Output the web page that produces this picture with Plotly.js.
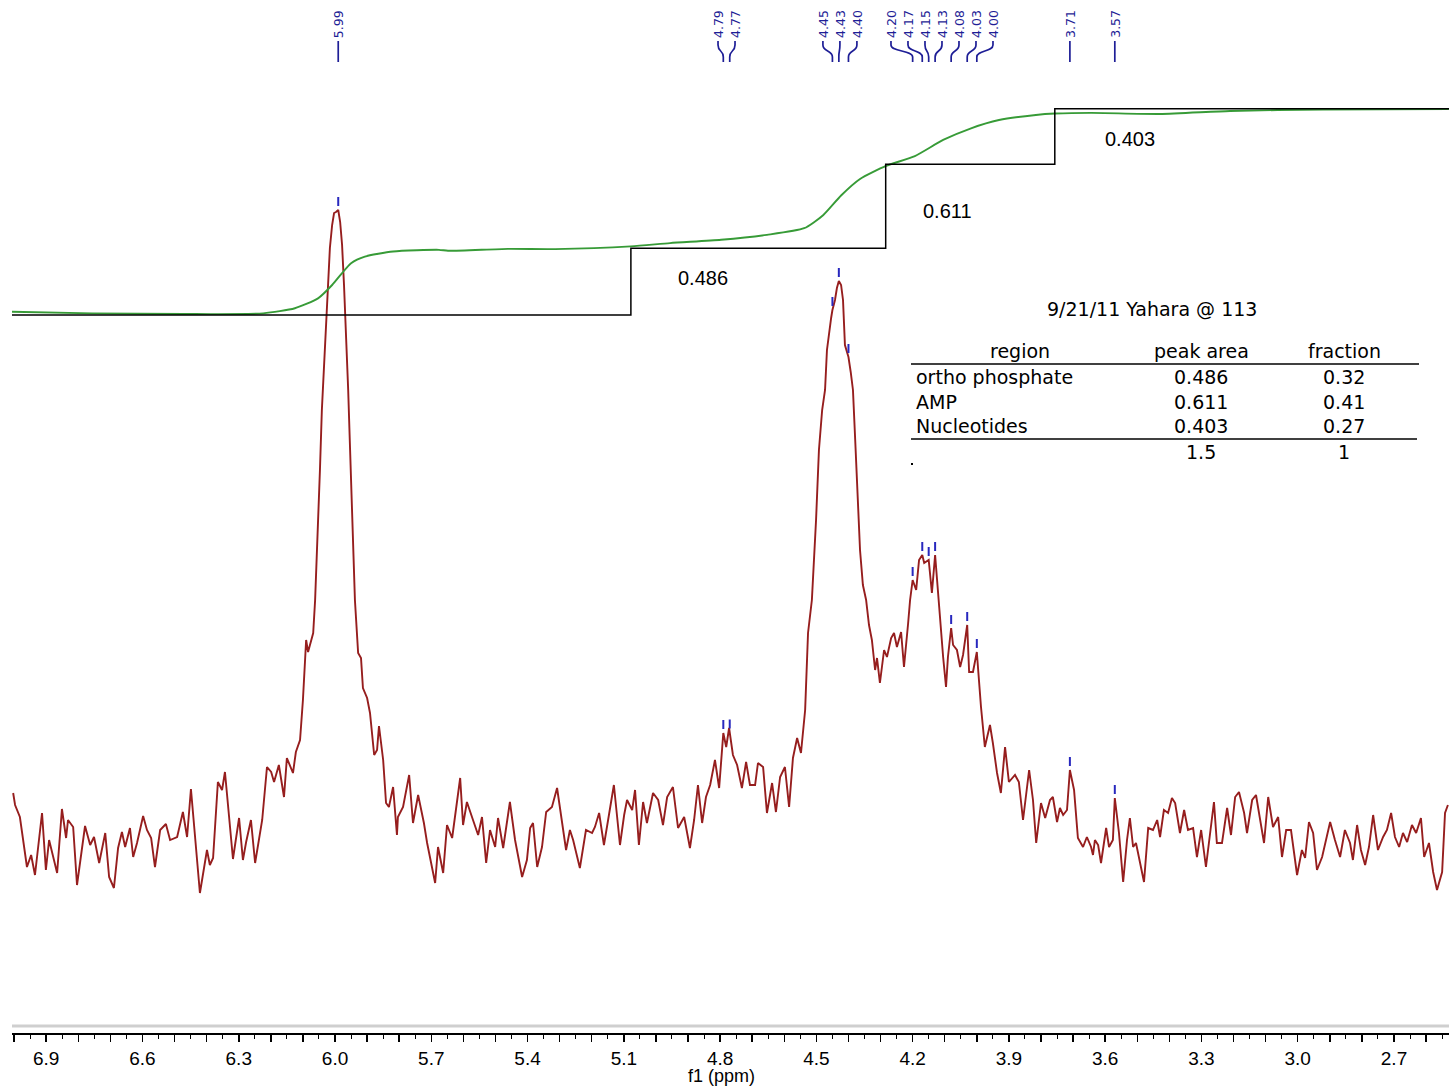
<!DOCTYPE html>
<html>
<head>
<meta charset="utf-8">
<script src="https://cdn.plot.ly/plotly-3.0.1.min.js"></script>
<style>
  html, body { margin: 0; padding: 0; background: #fff; }
  #chart { width: 1449px; height: 1087px; }
</style>
</head>
<body>
<div id="chart"></div>
<script>
// ---------------- DATA ----------------
// 31P spectrum: chemical shift (ppm) and intensity (arbitrary units)
const ppm = [
7.003,6.997,6.982,6.960,6.947,6.935,6.913,6.901,6.891,6.866,6.851,6.838,6.832,6.816,6.804,6.795,6.779,6.763,6.751,6.735,
6.716,6.704,6.689,6.676,6.664,6.654,6.639,6.629,6.617,6.598,6.586,6.573,6.561,6.545,6.527,6.514,6.492,6.474,6.461,6.449,
6.436,6.421,6.399,6.390,6.380,6.365,6.352,6.343,6.318,6.299,6.287,6.277,6.262,6.249,6.227,6.212,6.199,6.190,6.175,6.159,
6.150,6.131,6.122,6.109,6.100,6.090,6.084,6.068,6.062,6.053,6.047,6.041,6.034,6.028,6.022,6.016,6.009,6.003,5.997,5.990,
5.984,5.978,5.972,5.966,5.959,5.953,5.947,5.941,5.938,5.928,5.919,5.913,5.900,5.891,5.878,5.869,5.863,5.850,5.841,5.832,
5.819,5.807,5.804,5.788,5.769,5.757,5.741,5.723,5.713,5.688,5.679,5.663,5.651,5.635,5.610,5.601,5.589,5.570,5.554,5.542,
5.529,5.517,5.501,5.492,5.476,5.455,5.439,5.417,5.402,5.392,5.383,5.370,5.355,5.342,5.324,5.308,5.293,5.280,5.268,5.258,
5.237,5.218,5.199,5.190,5.177,5.162,5.149,5.131,5.112,5.099,5.090,5.074,5.065,5.053,5.040,5.028,5.009,4.993,4.978,4.965,
4.947,4.931,4.912,4.894,4.881,4.869,4.856,4.844,4.831,4.816,4.803,4.790,4.781,4.772,4.760,4.747,4.732,4.719,4.707,4.691,
4.682,4.666,4.654,4.638,4.626,4.613,4.598,4.585,4.573,4.560,4.548,4.535,4.526,4.514,4.501,4.492,4.482,4.473,4.467,4.460,
4.454,4.450,4.442,4.436,4.430,4.423,4.417,4.411,4.400,4.393,4.386,4.379,4.373,4.364,4.355,4.345,4.336,4.327,4.317,4.311,
4.302,4.289,4.280,4.267,4.258,4.249,4.236,4.227,4.214,4.208,4.200,4.189,4.180,4.170,4.164,4.150,4.146,4.140,4.130,4.118,
4.105,4.096,4.090,4.080,4.074,4.062,4.052,4.043,4.030,4.024,4.012,4.000,3.993,3.987,3.975,3.959,3.950,3.937,3.925,3.912,
3.900,3.881,3.869,3.856,3.837,3.825,3.815,3.800,3.787,3.772,3.763,3.750,3.741,3.731,3.719,3.710,3.697,3.685,3.669,3.657,
3.644,3.638,3.632,3.622,3.613,3.597,3.588,3.576,3.570,3.557,3.544,3.532,3.523,3.513,3.504,3.491,3.479,3.466,3.451,3.438,
3.429,3.417,3.404,3.392,3.382,3.367,3.354,3.342,3.326,3.314,3.301,3.286,3.273,3.261,3.252,3.236,3.220,3.208,3.195,3.183,
3.167,3.158,3.142,3.130,3.117,3.105,3.092,3.077,3.061,3.049,3.036,3.021,3.002,2.987,2.977,2.965,2.952,2.940,2.924,2.912,
2.899,2.884,2.868,2.853,2.837,2.828,2.815,2.803,2.790,2.778,2.765,2.750,2.734,2.722,2.709,2.697,2.684,2.672,2.659,2.644,
2.631,2.616,2.606,2.591,2.578,2.566,2.550,2.541,2.532
];
const intensity = [
47,35,23,-27,-15,-35,27,-30,0,-33,31,2,20,13,-45,-25,14,-5,3,-23,
7,-37,-48,-8,8,-7,12,-17,-3,24,10,2,-27,10,16,0,3,28,3,51,
0,-53,-10,-25,-18,58,50,68,-19,22,-20,-2,20,-23,20,73,68,58,75,43,
82,67,88,100,140,200,188,207,240,310,370,430,480,520,560,592,615,627,628,630,
618,595,555,510,450,390,330,270,240,187,182,152,142,127,85,90,114,80,37,33,
53,5,23,33,65,17,45,17,-3,-43,-7,-33,15,2,62,15,38,20,5,23,
-23,10,-7,22,-8,38,0,-37,-20,12,17,-27,-7,28,33,52,20,-10,10,0,
-28,10,7,13,27,-5,20,55,-5,25,40,30,50,-5,38,17,47,40,15,43,
53,12,23,-8,20,55,17,43,55,80,52,107,93,112,85,75,52,78,55,55,
77,73,27,57,28,63,73,33,82,102,87,130,207,240,320,390,430,450,490,510,
522,530,540,552,559,555,540,495,483,468,450,400,350,290,255,240,215,200,170,182,
157,190,183,202,207,193,208,173,217,240,260,250,280,285,277,280,267,247,285,233,
183,153,183,212,195,190,173,185,215,168,168,188,157,133,93,115,97,67,47,93,
58,65,58,20,70,40,-3,37,22,40,43,18,32,25,30,70,50,2,-7,3,
-7,-15,0,-5,-23,12,-7,0,42,7,-42,0,22,-7,-3,-23,-42,12,10,20,
3,30,27,42,37,7,30,10,12,-17,10,-27,10,38,-3,-3,32,5,43,48,
27,7,40,45,20,-3,43,13,23,-17,10,10,-35,-10,-18,18,7,-30,-17,0,
18,0,-17,10,-3,-20,15,-10,-25,-7,25,-10,3,10,27,3,-7,7,-2,15,
7,22,-17,-3,-32,-50,-32,27,35
];

// Integral curve (cumulative area)
const integralPpm = [7.007,6.757,6.471,6.224,6.125,6.053,6.009,5.978,5.950,5.907,5.819,5.676,5.648,5.461,5.314,5.078,4.956,4.797,4.654,4.538,4.479,4.423,4.364,4.283,4.193,4.105,4.018,3.931,3.816,3.756,3.644,3.429,3.211,2.921,2.529];
const integralValue = [0.024,0.012,0.007,0.012,0.049,0.121,0.218,0.305,0.377,0.425,0.462,0.474,0.467,0.481,0.479,0.499,0.523,0.547,0.583,0.631,0.726,0.869,0.989,1.084,1.156,1.273,1.358,1.418,1.455,1.465,1.470,1.462,1.484,1.495,1.497];

// Integration regions (right boundary of each region, ppm) and areas
const regionEnds = [5.078, 4.284, 3.757];
const regionAreas = [0.486, 0.611, 0.403];

// Picked peaks (ppm)
const peakPpm = [5.99, 4.79, 4.77, 4.45, 4.43, 4.40, 4.20, 4.17, 4.15, 4.13, 4.08, 4.03, 4.00, 3.71, 3.57];

// Axis tick labels
const tickLabels = ['6.9','6.6','6.3','6.0','5.7','5.4','5.1','4.8','4.5','4.2','3.9','3.6','3.3','3.0','2.7'];

// Table
const tableTitle = '9/21/11 Yahara @ 113';
const tableHeader = ['region', 'peak area', 'fraction'];
const tableRegions = ['ortho phosphate', 'AMP', 'Nucleotides'];
const tablePeakArea = ['0.486', '0.611', '0.403'];
const tableFraction = ['0.32', '0.41', '0.27'];
const tableTotals = ['1.5', '1'];

// ---------------- LAYOUT HELPERS ----------------
const W = 1449, H = 1087;
const ML = 12, MR = 0, MT = 0, MB = 54;
const plotW = W - ML - MR, plotH = H - MT - MB;
const xRange = [7.0066, 2.5286];
const yRange = [840 - plotH, 840];
const y2Range = [-(plotH - 315) / 137.5, 315 / 137.5];
const px = v => (v - ML) / plotW;          // pixel x -> paper x
const py = v => (plotH + MT - v) / plotH;  // pixel y -> paper y
const ppmPerPx = (xRange[0] - xRange[1]) / plotW;

const axisFont = 'Liberation Sans, Arial, sans-serif';
const verdana = 'DejaVu Sans, Verdana, sans-serif';
const blue = 'rgb(30,30,150)';

function interp(x) {
  for (let i = 0; i < ppm.length - 1; i++) {
    if ((ppm[i] - x) * (ppm[i + 1] - x) <= 0) {
      const t = (x - ppm[i]) / (ppm[i + 1] - ppm[i]);
      return intensity[i] + t * (intensity[i + 1] - intensity[i]);
    }
  }
  return 0;
}

// cumulative integral levels for step line
const cum = [0];
regionAreas.forEach((a, i) => cum.push(cum[i] + a));

// label spreading for peak labels
const spacing = 17 * ppmPerPx;
const sorted = peakPpm.slice().sort((a, b) => b - a);
const clusters = [];
sorted.forEach(p => {
  const last = clusters[clusters.length - 1];
  if (last && last[last.length - 1] - p < spacing) last.push(p); else clusters.push([p]);
});
const labelPos = [];
clusters.forEach(c => {
  const mean = c.reduce((s, v) => s + v, 0) / c.length;
  c.forEach((p, i) => labelPos.push({ peak: p, lab: mean + ((c.length - 1) / 2 - i) * spacing }));
});

// ---------------- TRACES ----------------
const traces = [
  {
    x: ppm, y: intensity, type: 'scatter', mode: 'lines',
    line: { color: 'rgb(150,30,30)', width: 1.9 },
    hoverinfo: 'skip'
  },
  {
    x: integralPpm, y: integralValue, yaxis: 'y2', type: 'scatter', mode: 'lines',
    line: { color: 'rgb(55,155,55)', width: 1.9, shape: 'spline', smoothing: 0.6 },
    hoverinfo: 'skip'
  },
  {
    x: [xRange[0]].concat(regionEnds, [xRange[1]]),
    y: cum.concat([cum[cum.length - 1]]),
    yaxis: 'y2', type: 'scatter', mode: 'lines',
    line: { color: '#000', width: 1.5, shape: 'hv' },
    hoverinfo: 'skip'
  }
];

// ---------------- SHAPES & ANNOTATIONS ----------------
const shapes = [];
const annotations = [];

// peak marks above spectrum
peakPpm.forEach(p => {
  const v = interp(p);
  shapes.push({ type: 'line', xref: 'x', yref: 'y', x0: p, x1: p, y0: v + 4, y1: v + 13,
    line: { color: 'rgb(40,40,190)', width: 2 } });
});

// peak labels with leader lines
labelPos.forEach(o => {
  annotations.push({ xref: 'x', yref: 'paper', x: o.lab, y: py(24), text: o.peak.toFixed(2),
    textangle: -90, showarrow: false, xanchor: 'center', yanchor: 'middle',
    font: { family: verdana, size: 12.5, color: blue } });
  const path = `M ${o.lab},${py(41)} L ${o.lab},${py(45)} C ${o.lab},${py(52)} ${o.peak},${py(50)} ${o.peak},${py(57)} L ${o.peak},${py(62)}`;
  shapes.push({ type: 'path', xref: 'x', yref: 'paper', path: path, line: { color: blue, width: 1.7 } });
});

// gray band above axis
shapes.push({ type: 'line', xref: 'paper', yref: 'paper', x0: 0, x1: 1, y0: py(1026), y1: py(1026),
  line: { color: '#cfcfcf', width: 3 } });

// integral labels
const integralLabelPos = [[4.853, 0.269], [4.090, 0.756], [3.523, 1.280]];
regionAreas.forEach((a, i) => {
  annotations.push({ xref: 'x', yref: 'y2', x: integralLabelPos[i][0], y: integralLabelPos[i][1],
    text: a.toFixed(3), showarrow: false, xanchor: 'center', yanchor: 'middle',
    font: { family: 'Liberation Sans, Arial, sans-serif', size: 20, color: '#000' } });
});

// axis title
annotations.push({ xref: 'paper', yref: 'paper', x: px(721), y: py(1076), text: 'f1 (ppm)', showarrow: false,
  xanchor: 'center', yanchor: 'middle', font: { family: axisFont, size: 18, color: '#000' } });

// table
const tf = { family: verdana, size: 19, color: '#000' };
annotations.push({ xref: 'paper', yref: 'paper', x: px(1152), y: py(309), text: tableTitle, showarrow: false,
  xanchor: 'center', yanchor: 'middle', font: tf });
const colX = [1020, 1201, 1344];
tableHeader.forEach((t, i) => annotations.push({ xref: 'paper', yref: 'paper', x: px(colX[i]), y: py(351), text: t,
  showarrow: false, xanchor: 'center', yanchor: 'middle', font: tf }));
const rowY = [377, 402, 426];
tableRegions.forEach((t, i) => {
  annotations.push({ xref: 'paper', yref: 'paper', x: px(914), y: py(rowY[i]), text: t, showarrow: false,
    xanchor: 'left', yanchor: 'middle', font: tf });
  annotations.push({ xref: 'paper', yref: 'paper', x: px(colX[1]), y: py(rowY[i]), text: tablePeakArea[i], showarrow: false,
    xanchor: 'center', yanchor: 'middle', font: tf });
  annotations.push({ xref: 'paper', yref: 'paper', x: px(colX[2]), y: py(rowY[i]), text: tableFraction[i], showarrow: false,
    xanchor: 'center', yanchor: 'middle', font: tf });
});
tableTotals.forEach((t, i) => annotations.push({ xref: 'paper', yref: 'paper', x: px(colX[i + 1]), y: py(452), text: t,
  showarrow: false, xanchor: 'center', yanchor: 'middle', font: tf }));
shapes.push({ type: 'line', xref: 'paper', yref: 'paper', x0: px(911), x1: px(1419), y0: py(364), y1: py(364),
  line: { color: '#000', width: 1.5 } });
shapes.push({ type: 'line', xref: 'paper', yref: 'paper', x0: px(911), x1: px(1417), y0: py(439), y1: py(439),
  line: { color: '#000', width: 1.5 } });
shapes.push({ type: 'rect', xref: 'paper', yref: 'paper', x0: px(911), x1: px(913), y0: py(465), y1: py(463),
  fillcolor: '#000', line: { width: 0 } });

// ---------------- AXES ----------------
const tickvals = [], ticktext = [];
for (let i = 0; i <= 44; i++) {
  const v = Math.round((7.0 - i * 0.1) * 10) / 10;
  tickvals.push(v);
  ticktext.push(tickLabels.includes(v.toFixed(1)) ? v.toFixed(1) : '');
}

const layout = {
  width: W, height: H,
  margin: { l: ML, r: MR, t: MT, b: MB, pad: 0 },
  paper_bgcolor: '#fff', plot_bgcolor: '#fff',
  showlegend: false,
  xaxis: {
    range: xRange, autorange: false,
    tickmode: 'array', tickvals: tickvals, ticktext: ticktext,
    ticks: 'outside', ticklen: 7, tickwidth: 1.5, tickcolor: '#000',
    showline: true, linecolor: '#000', linewidth: 2,
    showgrid: false, zeroline: false,
    ticklabelstandoff: 0,
    tickfont: { family: axisFont, size: 19, color: '#000' },
    minor: { ticks: 'outside', ticklen: 4, tickwidth: 1, tickcolor: '#000', dtick: 0.05, tick0: 0, showgrid: false }
  },
  yaxis: { range: yRange, autorange: false, visible: false, fixedrange: true },
  yaxis2: { range: y2Range, autorange: false, visible: false, overlaying: 'y', fixedrange: true },
  shapes: shapes,
  annotations: annotations
};

Plotly.newPlot('chart', traces, layout, { staticPlot: true, displayModeBar: false });
</script>
</body>
</html>
